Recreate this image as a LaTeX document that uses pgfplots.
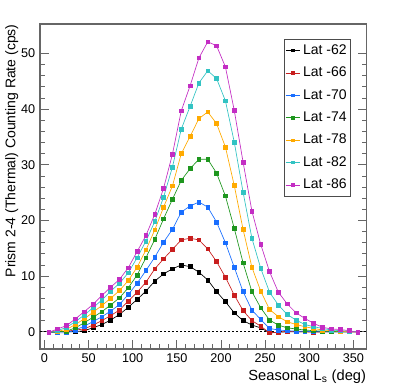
\documentclass[border=0pt]{standalone}
\usepackage{fontspec}
\setmainfont{Liberation Sans}
\usepackage{pgfplots}
\usepackage{pgfplotstable}
\pgfplotsset{compat=1.18}

\definecolor{cRed}{RGB}{200,30,30}
\definecolor{cBlue}{RGB}{25,110,255}
\definecolor{cGreen}{RGB}{30,150,30}
\definecolor{cOrange}{RGB}{255,170,0}
\definecolor{cCyan}{RGB}{50,195,195}
\definecolor{cMag}{RGB}{195,45,195}

% counting rate (cps) vs Ls, one column per latitude band
\pgfplotstableread{
Ls   a     b     c     d     e     f     g
5    0.0  -0.1  -0.1  -0.1  -0.1   0.0  -0.1
15   0.0   0.0  -0.2   0.0   0.1   0.2   0.5
25   0.0   0.1  -0.2   0.1   0.4   0.8   1.1
35   0.0   0.3   0.3   0.7   1.3   1.8   2.3
45   0.2   0.5   1.0   1.6   2.3   3.0   3.6
55   0.7   1.2   1.8   2.6   3.5   4.3   4.9
65   1.3   2.0   2.7   3.6   4.7   5.7   6.5
75   2.1   2.9   3.7   4.8   6.0   7.3   8.0
85   3.1   3.9   4.9   6.1   7.4   8.7   9.4
95   4.4   5.5   6.7   7.9   9.2  10.6  11.5
105  5.8   7.1   8.7  10.2  11.6  13.3  14.4
115  7.3   8.9  11.0  13.3  14.7  16.3  17.3
125  9.1  11.3  13.4  16.6  18.3  19.8  21.1
135 10.4  13.1  16.1  20.3  22.4  24.2  25.8
145 11.3  14.8  18.4  23.8  26.2  29.6  31.9
155 12.0  16.5  21.5  27.2  32.0  36.4  39.7
165 11.7  16.8  22.6  29.3  35.1  40.5  44.2
175 10.7  16.5  23.3  31.0  38.3  44.7  49.2
185  9.3  14.9  22.4  31.0  39.5  46.9  52.1
195  7.2  12.6  19.7  28.5  37.4  45.5  51.4
205  5.4   9.8  16.0  24.4  33.2  41.5  47.6
215  3.4   6.6  11.6  18.6  26.3  34.1  39.8
225  2.0   3.8   7.2  12.4  18.4  25.1  30.5
235  1.2   2.0   3.9   7.2  11.6  16.8  21.7
245  0.7   1.0   2.2   4.3   7.3  11.4  15.7
255 -0.2  -0.2   0.6   2.1   4.0   7.1  10.8
265 -0.1  -0.1   0.3   1.2   2.7   4.8   7.1
275  0.0   0.1   0.2   0.7   1.8   3.1   5.0
285  0.0   0.0   0.1   0.5   1.3   2.1   3.4
295  0.0   0.0   0.1   0.3   0.9   1.3   2.4
305  0.0  -0.1   0.0   0.2   0.6   0.9   1.5
315  0.0   0.0   0.0   0.1   0.3   0.6   0.8
325  0.0   0.0   0.0   0.1   0.2   0.3   0.5
335  0.0   0.0   0.0   0.0   0.1   0.2   0.4
345  0.0   0.0   0.0   0.0   0.0   0.1   0.2
355  0.0   0.0   0.0   0.0   0.0   0.0  -0.1
}\rates

\begin{document}
\begin{tikzpicture}
\begin{axis}[
    scale only axis,
    width=245pt, height=243.75pt,
    xmin=-5, xmax=365, ymin=-3.1, ymax=55.3,
    xtick={0,50,...,350}, minor x tick num=4,
    ytick={0,10,...,50}, minor y tick num=4,
    xtick pos=left, ytick pos=both,
    tick align=inside,
    major tick length=6.75pt, minor tick length=3.4pt,
    axis line style={black!60, line width=0.8pt},
    tick style={black!60, line width=0.6pt},
    ticklabel style={font=\fontsize{9.5}{11}\selectfont},
    /pgf/number format/assume math mode=true,
    xlabel={Seasonal L\textsubscript{s} (deg)},
    ylabel={Prism 2-4 (Thermal) Counting Rate (cps)},
    xlabel style={font=\fontsize{11}{13}\selectfont, at={(axis description cs:1,0)}, anchor=north east, yshift=-12pt, xshift=3pt},
    ylabel style={font=\fontsize{10.5}{12}\selectfont, at={(axis description cs:-0.052,1.0135)}, anchor=south east},
    legend style={at={(0.952,0.954)}, anchor=north east, draw=black!70,
        font=\fontsize{10.5}{12}\selectfont, cells={anchor=west}, row sep=4pt,
        inner ysep=2pt, inner xsep=1pt},
    legend image code/.code={
        \draw[mark repeat=2, mark phase=2, mark size=0.9pt] plot coordinates {(0cm,0cm) (0.19cm,0cm) (0.38cm,0cm)};
    },
    every axis plot/.append style={line width=0.5pt, mark=square*, mark size=1.4pt},
]
\addplot[black, dash pattern=on 1.5pt off 1.5pt, line width=0.6pt, no marks, forget plot]
    coordinates {(-5,0) (365,0)};
\addplot[black, mark options={fill=black}] table[x=Ls, y=a] {\rates};
\addplot[cRed, mark options={fill=cRed}] table[x=Ls, y=b] {\rates};
\addplot[cBlue, mark options={fill=cBlue}] table[x=Ls, y=c] {\rates};
\addplot[cGreen, mark options={fill=cGreen}] table[x=Ls, y=d] {\rates};
\addplot[cOrange, mark options={fill=cOrange}] table[x=Ls, y=e] {\rates};
\addplot[cCyan, mark options={fill=cCyan}] table[x=Ls, y=f] {\rates};
\addplot[cMag, mark options={fill=cMag}] table[x=Ls, y=g] {\rates};
\legend{Lat -62, Lat -66, Lat -70, Lat -74, Lat -78, Lat -82, Lat -86}
\end{axis}
\pgfresetboundingbox
\path[use as bounding box] (-30pt,-29.25pt) rectangle (269.25pt,261.75pt);
\end{tikzpicture}
\end{document}
